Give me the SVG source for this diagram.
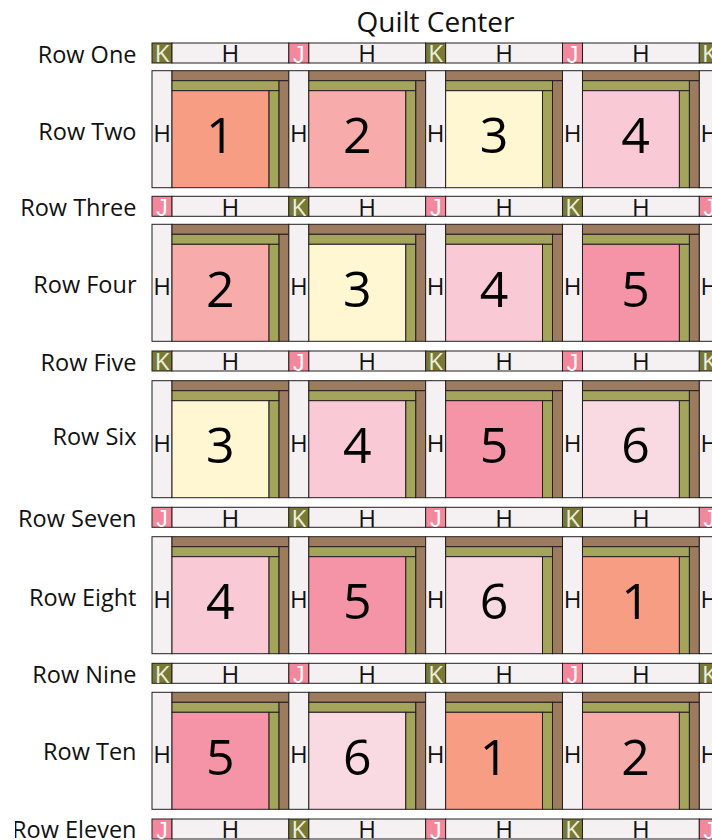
<svg xmlns="http://www.w3.org/2000/svg" width="712" height="840" viewBox="0 0 712 840">
<style>
text{font-family:"Open Sans","Liberation Sans",sans-serif}
rect{stroke:#231f20;stroke-width:1}
.h{fill:#f5f1f3}.k{fill:#787936}.j{fill:#f3889c}.br{fill:#9c7b5f}.gr{fill:#a4a55a}
.c1{fill:#f79d84}.c2{fill:#f8abab}.c3{fill:#fef7d1}.c4{fill:#f9cad5}.c5{fill:#f594a6}.c6{fill:#fadae2}
.lbl{font-size:23.5px;text-anchor:end;fill:#111}
.title{font-size:28px;text-anchor:middle;fill:#111}
.lt{font-size:24px;text-anchor:middle;fill:#111}
.lk{font-size:24px;text-anchor:middle;fill:#eceedd}
.lj{font-family:"Liberation Sans",Arial,sans-serif;font-size:23px;text-anchor:middle;fill:#ffffff}
.num{font-size:50px;text-anchor:middle;fill:#000}
</style>
<defs>
<clipPath id="stripclip" clipPathUnits="userSpaceOnUse"><rect x="0" y="0" width="712" height="20" style="stroke:none"/></clipPath>
<clipPath id="lblclip" clipPathUnits="userSpaceOnUse"><rect x="15" y="800" width="200" height="40" style="stroke:none"/></clipPath>
</defs>
<rect x="0" y="0" width="712" height="840" style="fill:#fff;stroke:none"/>
<text class="title" x="435.5" y="32">Quilt Center</text>
<g id="labels">
<text class="lbl" x="136.5" y="62.5">Row One</text>
<text class="lbl" x="136.5" y="140">Row Two</text>
<text class="lbl" x="136.5" y="216">Row Three</text>
<text class="lbl" x="136.5" y="293">Row Four</text>
<text class="lbl" x="136.5" y="371">Row Five</text>
<text class="lbl" x="136.5" y="445">Row Six</text>
<text class="lbl" x="136.5" y="527">Row Seven</text>
<text class="lbl" x="136.5" y="606">Row Eight</text>
<text class="lbl" x="136.5" y="683">Row Nine</text>
<text class="lbl" x="136.5" y="760">Row Ten</text>
<text class="lbl" x="136.5" y="838" clip-path="url(#lblclip)">Row Eleven</text>
</g>

<g id="row1" transform="translate(0 43)">
<rect class="k" x="152" y="0" width="20" height="20"/><rect class="h" x="172" y="0" width="116.83" height="20"/>
<rect class="j" x="288.83" y="0" width="20" height="20"/><rect class="h" x="308.83" y="0" width="116.83" height="20"/>
<rect class="k" x="425.66" y="0" width="20" height="20"/><rect class="h" x="445.66" y="0" width="116.83" height="20"/>
<rect class="j" x="562.49" y="0" width="20" height="20"/><rect class="h" x="582.49" y="0" width="116.83" height="20"/>
<rect class="k" x="699.32" y="0" width="20" height="20"/>
<g clip-path="url(#stripclip)">
<text class="lk" x="162" y="19.3">K</text><text class="lt" x="230.4" y="19.3">H</text>
<text class="lj" x="298.83" y="19.5">J</text><text class="lt" x="367.2" y="19.3">H</text>
<text class="lk" x="435.66" y="19.3">K</text><text class="lt" x="504.1" y="19.3">H</text>
<text class="lj" x="572.49" y="19.5">J</text><text class="lt" x="640.9" y="19.3">H</text>
<text class="lk" x="709.32" y="19.3">K</text>
</g>
</g>

<g id="row3" transform="translate(0 196.3)">
<rect class="j" x="152" y="0" width="20" height="20"/><rect class="h" x="172" y="0" width="116.83" height="20"/>
<rect class="k" x="288.83" y="0" width="20" height="20"/><rect class="h" x="308.83" y="0" width="116.83" height="20"/>
<rect class="j" x="425.66" y="0" width="20" height="20"/><rect class="h" x="445.66" y="0" width="116.83" height="20"/>
<rect class="k" x="562.49" y="0" width="20" height="20"/><rect class="h" x="582.49" y="0" width="116.83" height="20"/>
<rect class="j" x="699.32" y="0" width="20" height="20"/>
<g clip-path="url(#stripclip)">
<text class="lj" x="162" y="19.5">J</text><text class="lt" x="230.4" y="19.3">H</text>
<text class="lk" x="298.83" y="19.3">K</text><text class="lt" x="367.2" y="19.3">H</text>
<text class="lj" x="435.66" y="19.5">J</text><text class="lt" x="504.1" y="19.3">H</text>
<text class="lk" x="572.49" y="19.3">K</text><text class="lt" x="640.9" y="19.3">H</text>
<text class="lj" x="709.32" y="19.5">J</text>
</g>
</g>

<g id="row5" transform="translate(0 351)">
<rect class="k" x="152" y="0" width="20" height="20"/><rect class="h" x="172" y="0" width="116.83" height="20"/>
<rect class="j" x="288.83" y="0" width="20" height="20"/><rect class="h" x="308.83" y="0" width="116.83" height="20"/>
<rect class="k" x="425.66" y="0" width="20" height="20"/><rect class="h" x="445.66" y="0" width="116.83" height="20"/>
<rect class="j" x="562.49" y="0" width="20" height="20"/><rect class="h" x="582.49" y="0" width="116.83" height="20"/>
<rect class="k" x="699.32" y="0" width="20" height="20"/>
<g clip-path="url(#stripclip)">
<text class="lk" x="162" y="19.3">K</text><text class="lt" x="230.4" y="19.3">H</text>
<text class="lj" x="298.83" y="19.5">J</text><text class="lt" x="367.2" y="19.3">H</text>
<text class="lk" x="435.66" y="19.3">K</text><text class="lt" x="504.1" y="19.3">H</text>
<text class="lj" x="572.49" y="19.5">J</text><text class="lt" x="640.9" y="19.3">H</text>
<text class="lk" x="709.32" y="19.3">K</text>
</g>
</g>

<g id="row7" transform="translate(0 507.3)">
<rect class="j" x="152" y="0" width="20" height="20"/><rect class="h" x="172" y="0" width="116.83" height="20"/>
<rect class="k" x="288.83" y="0" width="20" height="20"/><rect class="h" x="308.83" y="0" width="116.83" height="20"/>
<rect class="j" x="425.66" y="0" width="20" height="20"/><rect class="h" x="445.66" y="0" width="116.83" height="20"/>
<rect class="k" x="562.49" y="0" width="20" height="20"/><rect class="h" x="582.49" y="0" width="116.83" height="20"/>
<rect class="j" x="699.32" y="0" width="20" height="20"/>
<g clip-path="url(#stripclip)">
<text class="lj" x="162" y="19.5">J</text><text class="lt" x="230.4" y="19.3">H</text>
<text class="lk" x="298.83" y="19.3">K</text><text class="lt" x="367.2" y="19.3">H</text>
<text class="lj" x="435.66" y="19.5">J</text><text class="lt" x="504.1" y="19.3">H</text>
<text class="lk" x="572.49" y="19.3">K</text><text class="lt" x="640.9" y="19.3">H</text>
<text class="lj" x="709.32" y="19.5">J</text>
</g>
</g>

<g id="row9" transform="translate(0 663.3)">
<rect class="k" x="152" y="0" width="20" height="20"/><rect class="h" x="172" y="0" width="116.83" height="20"/>
<rect class="j" x="288.83" y="0" width="20" height="20"/><rect class="h" x="308.83" y="0" width="116.83" height="20"/>
<rect class="k" x="425.66" y="0" width="20" height="20"/><rect class="h" x="445.66" y="0" width="116.83" height="20"/>
<rect class="j" x="562.49" y="0" width="20" height="20"/><rect class="h" x="582.49" y="0" width="116.83" height="20"/>
<rect class="k" x="699.32" y="0" width="20" height="20"/>
<g clip-path="url(#stripclip)">
<text class="lk" x="162" y="19.3">K</text><text class="lt" x="230.4" y="19.3">H</text>
<text class="lj" x="298.83" y="19.5">J</text><text class="lt" x="367.2" y="19.3">H</text>
<text class="lk" x="435.66" y="19.3">K</text><text class="lt" x="504.1" y="19.3">H</text>
<text class="lj" x="572.49" y="19.5">J</text><text class="lt" x="640.9" y="19.3">H</text>
<text class="lk" x="709.32" y="19.3">K</text>
</g>
</g>

<g id="row11" transform="translate(0 819)">
<rect class="j" x="152" y="0" width="20" height="20"/><rect class="h" x="172" y="0" width="116.83" height="20"/>
<rect class="k" x="288.83" y="0" width="20" height="20"/><rect class="h" x="308.83" y="0" width="116.83" height="20"/>
<rect class="j" x="425.66" y="0" width="20" height="20"/><rect class="h" x="445.66" y="0" width="116.83" height="20"/>
<rect class="k" x="562.49" y="0" width="20" height="20"/><rect class="h" x="582.49" y="0" width="116.83" height="20"/>
<rect class="j" x="699.32" y="0" width="20" height="20"/>
<g clip-path="url(#stripclip)">
<text class="lj" x="162" y="19.5">J</text><text class="lt" x="230.4" y="19.3">H</text>
<text class="lk" x="298.83" y="19.3">K</text><text class="lt" x="367.2" y="19.3">H</text>
<text class="lj" x="435.66" y="19.5">J</text><text class="lt" x="504.1" y="19.3">H</text>
<text class="lk" x="572.49" y="19.3">K</text><text class="lt" x="640.9" y="19.3">H</text>
<text class="lj" x="709.32" y="19.5">J</text>
</g>
</g>

<!-- Row Two -->
<g id="b2-1" transform="translate(152 70.7)"><rect class="h" x="0" y="0" width="20" height="117"/><rect class="br" x="20" y="0" width="116.83" height="10"/><rect class="br" x="126.83" y="10" width="10" height="107"/><rect class="gr" x="20" y="10" width="106.83" height="10"/><rect class="gr" x="116.83" y="20" width="10" height="97"/><rect class="c1" x="20" y="20" width="96.83" height="97"/><text class="lt" x="10" y="71">H</text><text class="num" x="68.4" y="82.8">1</text></g>
<g id="b2-2" transform="translate(288.83 70.7)"><rect class="h" x="0" y="0" width="20" height="117"/><rect class="br" x="20" y="0" width="116.83" height="10"/><rect class="br" x="126.83" y="10" width="10" height="107"/><rect class="gr" x="20" y="10" width="106.83" height="10"/><rect class="gr" x="116.83" y="20" width="10" height="97"/><rect class="c2" x="20" y="20" width="96.83" height="97"/><text class="lt" x="10" y="71">H</text><text class="num" x="68.4" y="82.8">2</text></g>
<g id="b2-3" transform="translate(425.66 70.7)"><rect class="h" x="0" y="0" width="20" height="117"/><rect class="br" x="20" y="0" width="116.83" height="10"/><rect class="br" x="126.83" y="10" width="10" height="107"/><rect class="gr" x="20" y="10" width="106.83" height="10"/><rect class="gr" x="116.83" y="20" width="10" height="97"/><rect class="c3" x="20" y="20" width="96.83" height="97"/><text class="lt" x="10" y="71">H</text><text class="num" x="68.4" y="82.8">3</text></g>
<g id="b2-4" transform="translate(562.49 70.7)"><rect class="h" x="0" y="0" width="20" height="117"/><rect class="br" x="20" y="0" width="116.83" height="10"/><rect class="br" x="126.83" y="10" width="10" height="107"/><rect class="gr" x="20" y="10" width="106.83" height="10"/><rect class="gr" x="116.83" y="20" width="10" height="97"/><rect class="c4" x="20" y="20" width="96.83" height="97"/><text class="lt" x="10" y="71">H</text><text class="num" x="73" y="82.8">4</text></g>
<g id="b2-5" transform="translate(699.32 70.7)"><rect class="h" x="0" y="0" width="20" height="117"/><text class="lt" x="10" y="71">H</text></g>

<!-- Row Four -->
<g id="b4-1" transform="translate(152 224.3)"><rect class="h" x="0" y="0" width="20" height="117"/><rect class="br" x="20" y="0" width="116.83" height="10"/><rect class="br" x="126.83" y="10" width="10" height="107"/><rect class="gr" x="20" y="10" width="106.83" height="10"/><rect class="gr" x="116.83" y="20" width="10" height="97"/><rect class="c2" x="20" y="20" width="96.83" height="97"/><text class="lt" x="10" y="71">H</text><text class="num" x="68.4" y="82.8">2</text></g>
<g id="b4-2" transform="translate(288.83 224.3)"><rect class="h" x="0" y="0" width="20" height="117"/><rect class="br" x="20" y="0" width="116.83" height="10"/><rect class="br" x="126.83" y="10" width="10" height="107"/><rect class="gr" x="20" y="10" width="106.83" height="10"/><rect class="gr" x="116.83" y="20" width="10" height="97"/><rect class="c3" x="20" y="20" width="96.83" height="97"/><text class="lt" x="10" y="71">H</text><text class="num" x="68.4" y="82.8">3</text></g>
<g id="b4-3" transform="translate(425.66 224.3)"><rect class="h" x="0" y="0" width="20" height="117"/><rect class="br" x="20" y="0" width="116.83" height="10"/><rect class="br" x="126.83" y="10" width="10" height="107"/><rect class="gr" x="20" y="10" width="106.83" height="10"/><rect class="gr" x="116.83" y="20" width="10" height="97"/><rect class="c4" x="20" y="20" width="96.83" height="97"/><text class="lt" x="10" y="71">H</text><text class="num" x="68.4" y="82.8">4</text></g>
<g id="b4-4" transform="translate(562.49 224.3)"><rect class="h" x="0" y="0" width="20" height="117"/><rect class="br" x="20" y="0" width="116.83" height="10"/><rect class="br" x="126.83" y="10" width="10" height="107"/><rect class="gr" x="20" y="10" width="106.83" height="10"/><rect class="gr" x="116.83" y="20" width="10" height="97"/><rect class="c5" x="20" y="20" width="96.83" height="97"/><text class="lt" x="10" y="71">H</text><text class="num" x="73" y="82.8">5</text></g>
<g id="b4-5" transform="translate(699.32 224.3)"><rect class="h" x="0" y="0" width="20" height="117"/><text class="lt" x="10" y="71">H</text></g>

<!-- Row Six -->
<g id="b6-1" transform="translate(152 380.7)"><rect class="h" x="0" y="0" width="20" height="117"/><rect class="br" x="20" y="0" width="116.83" height="10"/><rect class="br" x="126.83" y="10" width="10" height="107"/><rect class="gr" x="20" y="10" width="106.83" height="10"/><rect class="gr" x="116.83" y="20" width="10" height="97"/><rect class="c3" x="20" y="20" width="96.83" height="97"/><text class="lt" x="10" y="71">H</text><text class="num" x="68.4" y="82.8">3</text></g>
<g id="b6-2" transform="translate(288.83 380.7)"><rect class="h" x="0" y="0" width="20" height="117"/><rect class="br" x="20" y="0" width="116.83" height="10"/><rect class="br" x="126.83" y="10" width="10" height="107"/><rect class="gr" x="20" y="10" width="106.83" height="10"/><rect class="gr" x="116.83" y="20" width="10" height="97"/><rect class="c4" x="20" y="20" width="96.83" height="97"/><text class="lt" x="10" y="71">H</text><text class="num" x="68.4" y="82.8">4</text></g>
<g id="b6-3" transform="translate(425.66 380.7)"><rect class="h" x="0" y="0" width="20" height="117"/><rect class="br" x="20" y="0" width="116.83" height="10"/><rect class="br" x="126.83" y="10" width="10" height="107"/><rect class="gr" x="20" y="10" width="106.83" height="10"/><rect class="gr" x="116.83" y="20" width="10" height="97"/><rect class="c5" x="20" y="20" width="96.83" height="97"/><text class="lt" x="10" y="71">H</text><text class="num" x="68.4" y="82.8">5</text></g>
<g id="b6-4" transform="translate(562.49 380.7)"><rect class="h" x="0" y="0" width="20" height="117"/><rect class="br" x="20" y="0" width="116.83" height="10"/><rect class="br" x="126.83" y="10" width="10" height="107"/><rect class="gr" x="20" y="10" width="106.83" height="10"/><rect class="gr" x="116.83" y="20" width="10" height="97"/><rect class="c6" x="20" y="20" width="96.83" height="97"/><text class="lt" x="10" y="71">H</text><text class="num" x="73" y="82.8">6</text></g>
<g id="b6-5" transform="translate(699.32 380.7)"><rect class="h" x="0" y="0" width="20" height="117"/><text class="lt" x="10" y="71">H</text></g>

<!-- Row Eight -->
<g id="b8-1" transform="translate(152 536.7)"><rect class="h" x="0" y="0" width="20" height="117"/><rect class="br" x="20" y="0" width="116.83" height="10"/><rect class="br" x="126.83" y="10" width="10" height="107"/><rect class="gr" x="20" y="10" width="106.83" height="10"/><rect class="gr" x="116.83" y="20" width="10" height="97"/><rect class="c4" x="20" y="20" width="96.83" height="97"/><text class="lt" x="10" y="71">H</text><text class="num" x="68.4" y="82.8">4</text></g>
<g id="b8-2" transform="translate(288.83 536.7)"><rect class="h" x="0" y="0" width="20" height="117"/><rect class="br" x="20" y="0" width="116.83" height="10"/><rect class="br" x="126.83" y="10" width="10" height="107"/><rect class="gr" x="20" y="10" width="106.83" height="10"/><rect class="gr" x="116.83" y="20" width="10" height="97"/><rect class="c5" x="20" y="20" width="96.83" height="97"/><text class="lt" x="10" y="71">H</text><text class="num" x="68.4" y="82.8">5</text></g>
<g id="b8-3" transform="translate(425.66 536.7)"><rect class="h" x="0" y="0" width="20" height="117"/><rect class="br" x="20" y="0" width="116.83" height="10"/><rect class="br" x="126.83" y="10" width="10" height="107"/><rect class="gr" x="20" y="10" width="106.83" height="10"/><rect class="gr" x="116.83" y="20" width="10" height="97"/><rect class="c6" x="20" y="20" width="96.83" height="97"/><text class="lt" x="10" y="71">H</text><text class="num" x="68.4" y="82.8">6</text></g>
<g id="b8-4" transform="translate(562.49 536.7)"><rect class="h" x="0" y="0" width="20" height="117"/><rect class="br" x="20" y="0" width="116.83" height="10"/><rect class="br" x="126.83" y="10" width="10" height="107"/><rect class="gr" x="20" y="10" width="106.83" height="10"/><rect class="gr" x="116.83" y="20" width="10" height="97"/><rect class="c1" x="20" y="20" width="96.83" height="97"/><text class="lt" x="10" y="71">H</text><text class="num" x="73" y="82.8">1</text></g>
<g id="b8-5" transform="translate(699.32 536.7)"><rect class="h" x="0" y="0" width="20" height="117"/><text class="lt" x="10" y="71">H</text></g>

<!-- Row Ten -->
<g id="b10-1" transform="translate(152 692.3)"><rect class="h" x="0" y="0" width="20" height="117"/><rect class="br" x="20" y="0" width="116.83" height="10"/><rect class="br" x="126.83" y="10" width="10" height="107"/><rect class="gr" x="20" y="10" width="106.83" height="10"/><rect class="gr" x="116.83" y="20" width="10" height="97"/><rect class="c5" x="20" y="20" width="96.83" height="97"/><text class="lt" x="10" y="71">H</text><text class="num" x="68.4" y="82.8">5</text></g>
<g id="b10-2" transform="translate(288.83 692.3)"><rect class="h" x="0" y="0" width="20" height="117"/><rect class="br" x="20" y="0" width="116.83" height="10"/><rect class="br" x="126.83" y="10" width="10" height="107"/><rect class="gr" x="20" y="10" width="106.83" height="10"/><rect class="gr" x="116.83" y="20" width="10" height="97"/><rect class="c6" x="20" y="20" width="96.83" height="97"/><text class="lt" x="10" y="71">H</text><text class="num" x="68.4" y="82.8">6</text></g>
<g id="b10-3" transform="translate(425.66 692.3)"><rect class="h" x="0" y="0" width="20" height="117"/><rect class="br" x="20" y="0" width="116.83" height="10"/><rect class="br" x="126.83" y="10" width="10" height="107"/><rect class="gr" x="20" y="10" width="106.83" height="10"/><rect class="gr" x="116.83" y="20" width="10" height="97"/><rect class="c1" x="20" y="20" width="96.83" height="97"/><text class="lt" x="10" y="71">H</text><text class="num" x="68.4" y="82.8">1</text></g>
<g id="b10-4" transform="translate(562.49 692.3)"><rect class="h" x="0" y="0" width="20" height="117"/><rect class="br" x="20" y="0" width="116.83" height="10"/><rect class="br" x="126.83" y="10" width="10" height="107"/><rect class="gr" x="20" y="10" width="106.83" height="10"/><rect class="gr" x="116.83" y="20" width="10" height="97"/><rect class="c2" x="20" y="20" width="96.83" height="97"/><text class="lt" x="10" y="71">H</text><text class="num" x="73" y="82.8">2</text></g>
<g id="b10-5" transform="translate(699.32 692.3)"><rect class="h" x="0" y="0" width="20" height="117"/><text class="lt" x="10" y="71">H</text></g>
</svg>
